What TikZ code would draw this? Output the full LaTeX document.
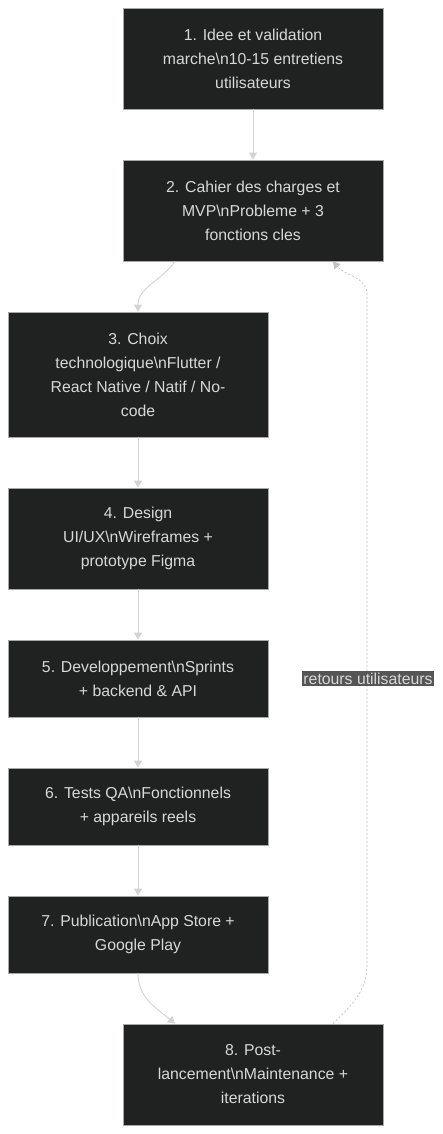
\documentclass[tikz,border=0pt]{standalone}
\usepackage{fontspec}
\setmainfont{Liberation Sans}
\usetikzlibrary{arrows.meta}
\definecolor{boxfill}{HTML}{202121}
\definecolor{boxline}{HTML}{A8A8A8}
\definecolor{boxtext}{HTML}{D8D8D8}
\definecolor{linkgray}{HTML}{D3D3D3}
\definecolor{labelfill}{HTML}{555555}
\tikzset{
  etape/.style={draw=boxline, fill=boxfill, text=boxtext, line width=0.8pt,
    minimum width=260pt, align=center, inner sep=0pt,
    font=\fontsize{15.8}{24}\selectfont},
  lien/.style={draw=linkgray, line width=0.9pt, -{Triangle[length=7pt,width=8pt]}},
  retour/.style={draw=linkgray!80!gray, line width=0.7pt, dash pattern=on 2pt off 2pt,
    -{Triangle[length=7pt,width=8pt]}},
}
\begin{document}
\begin{tikzpicture}[x=1pt, y=1pt]
  \useasboundingbox (0,0) rectangle (442,-1134);
  \node [etape, minimum height=101pt] (idee) at (253,-58.5)
    {1. Idee et validation\\marche\textbackslash n10-15 entretiens\\utilisateurs};
  \node [etape, minimum height=101pt] (cahier) at (253,-210.5)
    {2. Cahier des charges et\\MVP\textbackslash nProbleme + 3\\fonctions cles};
  \node [etape, minimum height=125pt] (choix) at (138,-374.5)
    {3. Choix\\technologique\textbackslash nFlutter /\\React Native / Natif / No-\\code};
  \node [etape, minimum height=101pt] (design) at (138,-538.5)
    {4. Design\\UI/UX\textbackslash nWireframes +\\prototype Figma};
  \node [etape, minimum height=77pt] (dev) at (138,-678.5)
    {5. Developpement\textbackslash nSprints\\+ backend \& API};
  \node [etape, minimum height=77pt] (tests) at (138,-806.5)
    {6. Tests QA\textbackslash nFonctionnels\\+ appareils reels};
  \node [etape, minimum height=77pt] (publi) at (138,-934.5)
    {7. Publication\textbackslash nApp Store +\\Google Play};
  \node [etape, minimum height=101pt] (post) at (253,-1074.5)
    {8. Post-\\lancement\textbackslash nMaintenance +\\iterations};

  \draw [lien] (idee) -- (cahier);
  \draw [lien] ([xshift=-78pt]cahier.south) to[out=-125, in=90] (choix.north);
  \draw [lien] (choix) -- (design);
  \draw [lien] (design) -- (dev);
  \draw [lien] (dev) -- (tests);
  \draw [lien] (tests) -- (publi);
  \draw [lien] (publi.south) to[out=-90, in=140] ([xshift=-78pt]post.north);

  % boucle de retour
  \coordinate (rbas) at (367,-965);
  \coordinate (rhaut) at (367,-295);
  \draw [retour] ([xshift=80pt]post.north) to[out=45, in=-90] (rbas) -- (rhaut)
    to[out=90, in=-50] ([xshift=80pt]cahier.south);
  \node [fill=labelfill, text=boxtext, inner sep=1.5pt,
    font=\fontsize{15.8}{18}\selectfont] (fb) at (368,-678.5) {retours utilisateurs};
\end{tikzpicture}
\end{document}
